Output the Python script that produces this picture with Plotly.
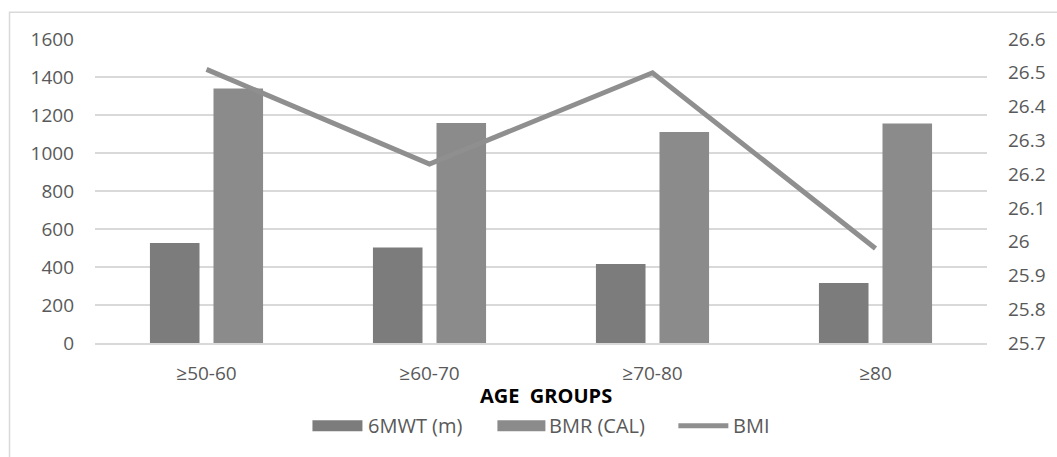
import plotly.graph_objects as go

# Age groups and measured values
categories = ["≥50-60", "≥60-70", "≥70-80", "≥80"]
mwt_6 = [526, 502, 416, 316]          # 6MWT (m)
bmr_cal = [1339, 1158, 1111, 1155]    # BMR (CAL)
bmi = [26.51, 26.23, 26.50, 25.98]    # BMI

left_ticks = list(range(0, 1601, 200))
right_ticks = [25.7, 25.8, 25.9, 26.0, 26.1, 26.2, 26.3, 26.4, 26.5, 26.6]
right_tick_text = ["25.7", "25.8", "25.9", "26", "26.1", "26.2", "26.3", "26.4", "26.5", "26.6"]

W, H = 1057, 457
ML, MR, MT, MB = 94.5, 70.3, 38.7, 114.3
PW, PH = W - ML - MR, H - MT - MB


def xp(px):
    return (px - ML) / PW


def yp(py):
    return (H - MB - py) / PH


FONT = "Open Sans"
TXT = "#595959"
C_MWT = "#7c7c7c"
C_BMR = "#8b8b8b"
C_BMI = "#8f8f8f"
GRID = "#d9d9d9"

fig = go.Figure()
fig.add_trace(go.Bar(x=categories, y=mwt_6, name="6MWT (m)", marker_color=C_MWT,
                     marker_line_width=0, showlegend=False))
fig.add_trace(go.Bar(x=categories, y=bmr_cal, name="BMR (CAL)", marker_color=C_BMR,
                     marker_line_width=0, showlegend=False))
fig.add_trace(go.Scatter(x=categories, y=bmi, name="BMI", mode="lines", yaxis="y2",
                         line=dict(color=C_BMI, width=5), showlegend=False))

shapes = [
    # outer chart frame
    dict(type="rect", xref="paper", yref="paper", x0=xp(9), x1=xp(W + 20),
         y0=yp(H + 20), y1=yp(12), line=dict(color=GRID, width=1.5), layer="below"),
    # legend swatches
    dict(type="rect", xref="paper", yref="paper", x0=xp(312), x1=xp(362),
         y0=yp(431), y1=yp(420), fillcolor=C_MWT, line_width=0),
    dict(type="rect", xref="paper", yref="paper", x0=xp(497), x1=xp(545),
         y0=yp(431), y1=yp(420), fillcolor=C_BMR, line_width=0),
    dict(type="line", xref="paper", yref="paper", x0=xp(678), x1=xp(728),
         y0=yp(425.5), y1=yp(425.5), line=dict(color=C_BMI, width=5)),
]

annotations = [
    dict(text="AGE  GROUPS", xref="paper", yref="paper", x=xp(546), y=yp(395),
         showarrow=False, xanchor="center", yanchor="middle",
         font=dict(family=FONT, size=20, color="#000000", weight="bold")),
    dict(text="6MWT (m)", xref="paper", yref="paper", x=xp(366), y=yp(425),
         showarrow=False, xanchor="left", yanchor="middle",
         font=dict(family=FONT, size=20, color=TXT)),
    dict(text="BMR (CAL)", xref="paper", yref="paper", x=xp(547), y=yp(425),
         showarrow=False, xanchor="left", yanchor="middle",
         font=dict(family=FONT, size=20, color=TXT)),
    dict(text="BMI", xref="paper", yref="paper", x=xp(731), y=yp(425),
         showarrow=False, xanchor="left", yanchor="middle",
         font=dict(family=FONT, size=20, color=TXT)),
]

fig.update_layout(
    width=W, height=H,
    margin=dict(l=ML, r=MR, t=MT, b=MB, pad=0),
    paper_bgcolor="white", plot_bgcolor="white",
    barmode="group", bargap=0.43, bargroupgap=0.22,
    font=dict(family=FONT, size=19, color=TXT),
    xaxis=dict(showgrid=False, showline=True, linecolor=GRID, linewidth=1.5,
               ticks="", ticklabelstandoff=12, zeroline=False),
    yaxis=dict(range=[0, 1600], tickvals=left_ticks, showgrid=True, gridcolor=GRID,
               gridwidth=1.5, zeroline=False, showline=False, ticks="",
               ticklabelstandoff=20),
    yaxis2=dict(range=[25.7, 26.6], tickvals=right_ticks, ticktext=right_tick_text,
                overlaying="y", side="right", showgrid=False, zeroline=False,
                showline=False, ticks="", ticklabelstandoff=20),
    shapes=shapes,
    annotations=annotations,
)

fig.write_html("out.html")
